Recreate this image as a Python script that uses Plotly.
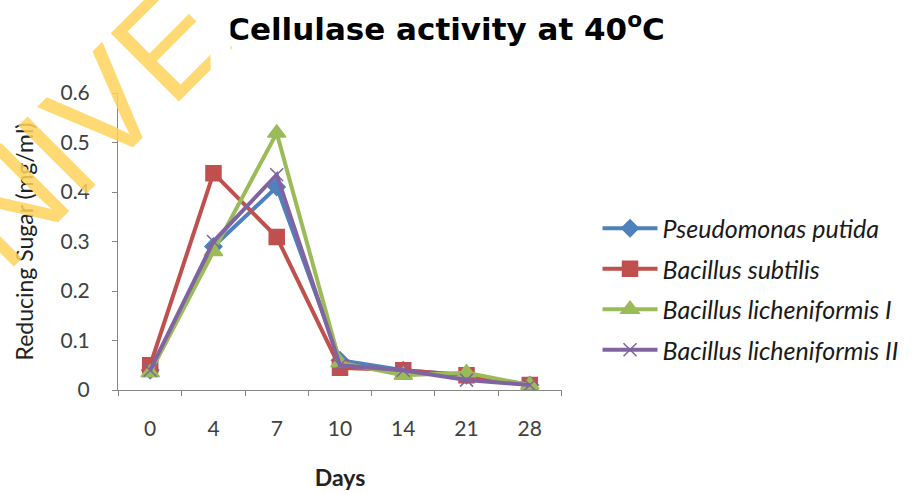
import plotly.graph_objects as go

days = ["0", "4", "7", "10", "14", "21", "28"]
pseudomonas_putida = [0.040, 0.290, 0.410, 0.060, 0.040, 0.030, 0.010]
bacillus_subtilis = [0.050, 0.438, 0.309, 0.045, 0.040, 0.030, 0.010]
bacillus_lich_1 = [0.035, 0.280, 0.519, 0.055, 0.030, 0.035, 0.010]
bacillus_lich_2 = [0.040, 0.300, 0.435, 0.050, 0.040, 0.020, 0.010]

series = [
    ("Pseudomonas putida", pseudomonas_putida, "#4F81BD", "diamond", 13),
    ("Bacillus subtilis", bacillus_subtilis, "#C0504D", "square", 15),
    ("Bacillus licheniformis I", bacillus_lich_1, "#9BBB59", "triangle-up", 16),
    ("Bacillus licheniformis II", bacillus_lich_2, "#8064A2", "x-thin", 13),
]

fig = go.Figure()
for i, (name, vals, col, sym, sz) in enumerate(series):
    fig.add_trace(go.Scatter(
        x=days, y=vals, name=f"<i>{name}</i>", mode="lines+markers",
        line=dict(color=col, width=4),
        marker=dict(symbol=sym, size=sz, color=col, line=dict(color=col, width=1.5)),
        legendgroup=f"g{i}",
    ))

fig.update_layout(
    width=913, height=494,
    margin=dict(l=118, r=351, t=93, b=104, autoexpand=False),
    paper_bgcolor="white", plot_bgcolor="white",
    showlegend=True,
    title=dict(text="<b>Cellulase activity at 40<sup>o</sup>C</b>",
               x=0.4885, xanchor="center", y=0.94, yanchor="middle",
               font=dict(family="DejaVu Sans", size=31, color="black")),
    legend=dict(x=1.08, xanchor="left", y=0.34, yanchor="middle",
                font=dict(family="Lato", size=25, color="#1a1a1a"),
                itemwidth=55, tracegroupgap=5, traceorder="grouped",
                bgcolor="rgba(0,0,0,0)"),
    xaxis=dict(type="category", showline=True, linecolor="#868686", linewidth=1,
               ticks="outside", ticklen=5, tickcolor="#868686", tickson="boundaries",
               showgrid=False, zeroline=False,
               tickfont=dict(family="Lato", size=21, color="#404040"),
               ticklabelstandoff=20,
               title=dict(text="<b>Days</b>", font=dict(family="Lato", size=23, color="#222222"),
                          standoff=30)),
    yaxis=dict(range=[0, 0.6], dtick=0.1, showline=True, linecolor="#868686", linewidth=1,
               ticks="outside", ticklen=5, tickcolor="#868686",
               showgrid=False, zeroline=False, tickformat=".1~f",
               tickfont=dict(family="Lato", size=21, color="#404040"),
               ticklabelstandoff=18,
               title=dict(text="Reducing Sugar (mg/ml)",
                          font=dict(family="Lato", size=23, color="#222222"),
                          standoff=20)),
)

# watermark (cropped in the source image at x ~ 210 px)
fig.add_annotation(text="UNIVE", xref="paper", yref="paper", x=-0.151, y=0.774,
                   xanchor="center", yanchor="middle", showarrow=False, textangle=-45,
                   font=dict(family="Liberation Sans", size=140, color="rgba(255,210,90,0.85)"))
fig.add_annotation(text=" ", xref="paper", yref="paper",
                   x=(210 - 118) / 444, y=(390 + 5) / 297, xanchor="left", yanchor="top",
                   showarrow=False, width=19, height=80, bgcolor="white", borderpad=0,
                   font=dict(size=10))

fig.write_html("out.html")
